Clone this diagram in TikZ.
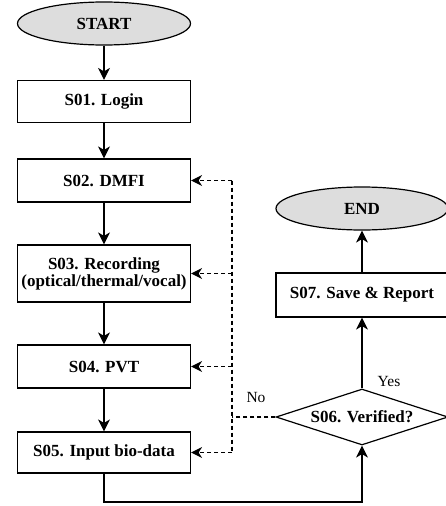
\documentclass[tikz,border=0pt]{standalone}
\usepackage{fontspec}
\setmainfont{Liberation Serif}
\usetikzlibrary{shapes.geometric,arrows.meta}
\definecolor{termfill}{RGB}{221,221,221}
\begin{document}
\begin{tikzpicture}[x=1pt,y=-1pt,
  every node/.style={font=\fontsize{17}{18}\selectfont},
  box/.style={draw,line width=1.2pt,minimum width=173pt,inner sep=0pt,font=\fontsize{17}{18}\selectfont\bfseries,align=center},
  term/.style={draw,ellipse,fill=termfill,line width=1.2pt,minimum width=173pt,minimum height=43pt,inner sep=0pt,font=\fontsize{17}{18}\selectfont\bfseries},
  decis/.style={draw,diamond,aspect=3.07,line width=1.2pt,minimum width=172pt,minimum height=56pt,inner sep=0pt,font=\fontsize{17}{18}\selectfont\bfseries},
  flow/.style={line width=1.2pt,-{Stealth[length=12pt,width=12pt,inset=3.5pt]}},
  fb/.style={line width=1.2pt,dash pattern=on 4pt off 3pt},
  fbarrow/.style={fb,-{Stealth[length=11pt,width=11pt,inset=3.5pt]}},
  lbl/.style={font=\fontsize{15.5}{17}\selectfont}
]
\useasboundingbox (0,0) rectangle (445,506);
\node[term] (start) at (104,23.5) {START};
\node[box,minimum height=42pt] (s01) at (104,101.5) {S01. Login};
\node[box,minimum height=43pt] (s02) at (104,180.5) {S02. DMFI};
\node[box,minimum height=57pt] (s03) at (104,273.5) {S03. Recording\\[-1pt](optical/thermal/vocal)};
\node[box,minimum height=43pt] (s04) at (104,366.5) {S04. PVT};
\node[box,minimum height=41pt] (s05) at (104,452.5) {S05. Input bio-data};
\node[decis] (s06) at (362,417) {S06. Verified?};
\node[box,minimum width=172pt,minimum height=44pt] (s07) at (362,295) {S07. Save \& Report};
\node[term,minimum width=172pt] (end) at (362,208.5) {END};

\coordinate (fbtop) at (232,180.5);
\coordinate (fbbot) at (232,452.5);
\coordinate (bot) at (104,502);

\draw[flow] (start) -- (s01);
\draw[flow] (s01) -- (s02);
\draw[flow] (s02) -- (s03);
\draw[flow] (s03) -- (s04);
\draw[flow] (s04) -- (s05);
\draw[flow] (s05.south) -- (bot) -| (s06.south);
\draw[flow] (s06.north) -- (s07.south);
\draw[flow] (s07.north) -- (end.south);

\draw[fb] (s06.west) -- (s06.west -| fbtop);
\draw[fb] (fbtop) -- (fbbot);
\draw[fbarrow] (fbtop) -- (s02.east);
\draw[fbarrow] (s03.east -| fbtop) -- (s03.east);
\draw[fbarrow] (s04.east -| fbtop) -- (s04.east);
\draw[fbarrow] (fbbot) -- (s05.east);

\node[lbl] (yes) at (389,381) {Yes};
\node[lbl] (no) at (256,397) {No};
\end{tikzpicture}
\end{document}
